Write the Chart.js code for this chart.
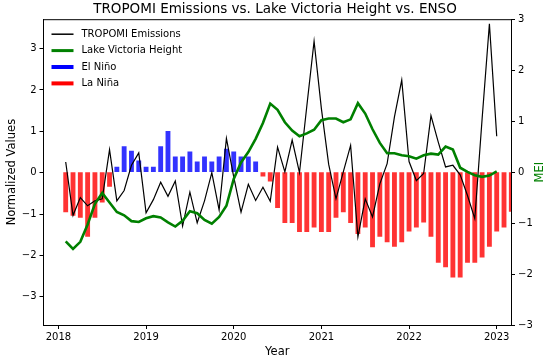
<!DOCTYPE html>
<html>
<head>
<meta charset="utf-8">
<script src="https://cdn.jsdelivr.net/npm/chart.js@4.4.1/dist/chart.umd.min.js"></script>
<style>
    html, body { margin: 0; padding: 0; background: #fff; }
</style>
</head>
<body>
<canvas id="chart" width="550" height="362"></canvas>
<script>
// monthly values, first month = Feb 2018
var startYear = 2018;
var startMonth = 1; // 0 = Jan

// MEI (right axis), Feb 2018 .. Mar 2023
var mei = [
    -0.78, -0.85, -0.89, -1.26, -0.89, -0.59, -0.28, 0.10, 0.50, 0.41, 0.22,
    0.10, 0.10, 0.50, 0.80, 0.30, 0.30, 0.40, 0.20, 0.30, 0.20, 0.30, 0.45,
    0.40, 0.30, 0.30, 0.20, -0.08, -0.18, -0.70, -0.99, -0.99, -1.17, -1.17,
    -1.08, -1.17, -1.17, -0.89, -0.78, -0.99, -1.21, -1.08, -1.47, -1.26,
    -1.37, -1.46, -1.37, -1.16, -1.08, -0.98, -1.26, -1.77, -1.86, -2.06,
    -2.06, -1.77, -1.77, -1.67, -1.46, -1.16, -1.08, -0.77
];

// TROPOMI emissions (normalized), Feb 2018 .. Jan 2023
var tropomi = [
    0.26, -1.03, -0.60, -0.80, -0.68, -0.63, 0.56, -0.68, -0.43, 0.18, 0.48,
    -0.97, -0.65, -0.23, -0.57, -0.20, -1.29, -0.47, -1.21, -0.68, 0.00,
    -0.90, 0.83, -0.10, -0.95, -0.28, -0.67, -0.35, -0.69, 0.62, 0.02, 0.79,
    0.00, 1.60, 3.18, 1.55, 0.20, -0.63, 0.02, 0.66, -1.55, -0.63, -1.07,
    -0.27, 0.22, 1.35, 2.24, 0.27, -0.19, -0.02, 1.38, 0.74, 0.14, 0.18,
    -0.05, -0.55, -1.11, 1.30, 3.60, 0.88
];

// Lake Victoria height (normalized), Feb 2018 .. Jan 2023
var lakeHeight = [
    -1.66, -1.84, -1.67, -1.25, -0.75, -0.49, -0.72, -0.95, -1.03, -1.17,
    -1.19, -1.10, -1.05, -1.08, -1.20, -1.30, -1.16, -0.93, -0.98, -1.14,
    -1.23, -1.07, -0.80, -0.15, 0.25, 0.50, 0.82, 1.20, 1.67, 1.52, 1.22,
    1.02, 0.88, 0.95, 1.04, 1.27, 1.31, 1.31, 1.22, 1.29, 1.68, 1.43, 1.05,
    0.72, 0.47, 0.47, 0.42, 0.40, 0.34, 0.42, 0.46, 0.44, 0.63, 0.56, 0.12,
    0.02, -0.06, -0.10, -0.07, 0.03
];

var yearTicks = [2018, 2019, 2020, 2021, 2022, 2023];
var yearLabels = ['2018', '2019', '2020', '2021', '2022', '2023'];
var leftTicks = [-3, -2, -1, 0, 1, 2, 3];
var leftLabels = ['\u22123', '\u22122', '\u22121', '0', '1', '2', '3'];
var meiTicks = [-3, -2, -1, 0, 1, 2, 3];
var meiLabels = ['\u22123', '\u22122', '\u22121', '0', '1', '2', '3'];

var legendItems = [
    { text: 'TROPOMI Emissions', color: '#000000', width: 1.5 },
    { text: 'Lake Victoria Height', color: '#008000', width: 3 },
    { text: 'El Ni\u00f1o', color: '#0000ff', width: 4 },
    { text: 'La Ni\u00f1a', color: '#ff0000', width: 4 }
];

var FONT = "'DejaVu Sans', sans-serif";

function monthToYear(i) {
    return startYear + (startMonth + i) / 12;
}

var elNino = [];
var laNina = [];
mei.forEach(function (v, i) {
    if (v > 0) elNino.push({ x: monthToYear(i), y: v });
    else laNina.push({ x: monthToYear(i), y: v });
});
var tropomiPts = tropomi.map(function (v, i) { return { x: monthToYear(i), y: v }; });
var lakePts = lakeHeight.map(function (v, i) { return { x: monthToYear(i), y: v }; });

function fixedTicks(values) {
    return function (axis) {
        axis.ticks = values.map(function (v) { return { value: v }; });
    };
}

function labelFrom(values, labels) {
    return function (value) {
        var k = values.indexOf(value);
        return k >= 0 ? labels[k] : '';
    };
}

// top spine, inside legend, right axis label
var extras = {
    id: 'extras',
    afterDraw: function (chart) {
        var ctx = chart.ctx;
        var a = chart.chartArea;
        ctx.save();
        ctx.strokeStyle = '#000';
        ctx.lineWidth = 1;
        ctx.beginPath();
        ctx.moveTo(a.left, a.top + 0.5);
        ctx.lineTo(a.right, a.top + 0.5);
        ctx.stroke();

        ctx.font = '10px ' + FONT;
        ctx.textBaseline = 'middle';
        ctx.textAlign = 'left';
        legendItems.forEach(function (item, i) {
            var y = a.top + 15 + i * 16.4;
            ctx.strokeStyle = item.color;
            ctx.lineWidth = item.width;
            ctx.beginPath();
            ctx.moveTo(a.left + 8, y);
            ctx.lineTo(a.left + 30, y);
            ctx.stroke();
            ctx.fillStyle = '#000';
            ctx.fillText(item.text, a.left + 38, y);
        });

        ctx.translate(540, (a.top + a.bottom) / 2);
        ctx.rotate(-Math.PI / 2);
        ctx.textAlign = 'center';
        ctx.fillStyle = '#008000';
        ctx.font = '11.5px ' + FONT;
        ctx.fillText('MEI', 0, 0);
        ctx.restore();
    }
};

var ctx = document.getElementById('chart').getContext('2d');

new Chart(ctx, {
    type: 'bar',
    data: {
        datasets: [{
            type: 'line',
            label: 'TROPOMI Emissions',
            data: tropomiPts,
            borderColor: '#000000',
            borderWidth: 1.2,
            pointRadius: 0,
            yAxisID: 'y',
            order: 1
        }, {
            type: 'line',
            label: 'Lake Victoria Height',
            data: lakePts,
            borderColor: '#008000',
            borderWidth: 2.6,
            pointRadius: 0,
            yAxisID: 'y',
            order: 0
        }, {
            label: 'El Niño',
            data: elNino,
            backgroundColor: 'rgba(0, 0, 255, 0.8)',
            barThickness: 4.2,
            grouped: false,
            yAxisID: 'y2',
            order: 2
        }, {
            label: 'La Niña',
            data: laNina,
            backgroundColor: 'rgba(255, 0, 0, 0.8)',
            barThickness: 4.2,
            grouped: false,
            yAxisID: 'y2',
            order: 2
        }]
    },
    options: {
        responsive: false,
        animation: false,
        devicePixelRatio: 1,
        layout: { padding: 0 },
        plugins: {
            legend: { display: false },
            tooltip: { enabled: false },
            title: {
                display: true,
                text: 'TROPOMI Emissions vs. Lake Victoria Height vs. ENSO',
                color: '#000',
                font: { family: FONT, size: 13.5, weight: 'normal' },
                padding: { top: 1, bottom: 2 }
            }
        },
        scales: {
            x: {
                type: 'linear',
                min: 2017.83,
                max: 2023.163,
                offset: false,
                afterBuildTicks: fixedTicks(yearTicks),
                afterFit: function (scale) { scale.height = 37; },
                ticks: {
                    color: '#000',
                    font: { family: FONT, size: 10 },
                    padding: 2,
                    maxRotation: 0,
                    autoSkip: false,
                    callback: labelFrom(yearTicks, yearLabels)
                },
                grid: { drawOnChartArea: false, offset: false, color: '#000', tickLength: 4 },
                border: { display: true, color: '#000', width: 1 },
                title: {
                    display: true,
                    text: 'Year',
                    color: '#000',
                    font: { family: FONT, size: 11.5 },
                    padding: { top: 0, bottom: 3 }
                }
            },
            y: {
                position: 'left',
                min: -3.68,
                max: 3.71,
                afterBuildTicks: fixedTicks(leftTicks),
                afterFit: function (scale) { scale.width = 43.5; },
                ticks: {
                    color: '#000',
                    font: { family: FONT, size: 10 },
                    padding: 3,
                    callback: labelFrom(leftTicks, leftLabels)
                },
                grid: { drawOnChartArea: false, color: '#000', tickLength: 4 },
                border: { display: true, color: '#000', width: 1 },
                title: {
                    display: true,
                    text: 'Normalized Values',
                    color: '#000',
                    font: { family: FONT, size: 11.5 },
                    padding: { top: 5, bottom: 0 }
                }
            },
            y2: {
                position: 'right',
                min: -3,
                max: 3,
                afterBuildTicks: fixedTicks(meiTicks),
                afterFit: function (scale) { scale.width = 39; },
                ticks: {
                    color: '#000',
                    font: { family: FONT, size: 10 },
                    padding: 3,
                    callback: labelFrom(meiTicks, meiLabels)
                },
                grid: { drawOnChartArea: false, color: '#000', tickLength: 4 },
                border: { display: true, color: '#000', width: 1 }
            }
        }
    },
    plugins: [extras]
});
</script>
</body>
</html>
